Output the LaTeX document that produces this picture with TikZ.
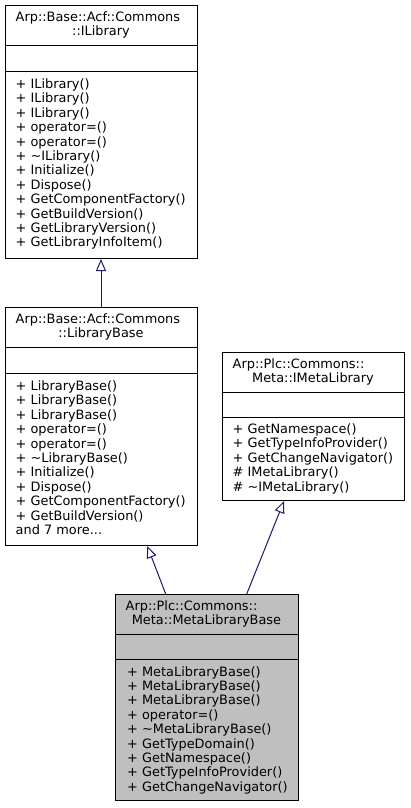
\documentclass[tikz,border=0pt]{standalone}
\usepackage{fontspec}
\setmainfont{DejaVu Sans}
\usetikzlibrary{arrows.meta,calc}
\definecolor{edgeblue}{HTML}{191970}
\definecolor{boxgray}{HTML}{BFBFBF}
\begin{document}
\begin{tikzpicture}[x=1pt,y=-1pt,
  box/.style={draw=black, line width=1pt, fill=white, rectangle, inner sep=0pt, anchor=north west},
  sep/.style={draw=black, line width=1pt},
  txt/.style={inner sep=0pt, anchor=base west, font=\fontsize{12.9}{14.4}\selectfont},
  ttl/.style={inner sep=0pt, anchor=base, font=\fontsize{12.9}{14.4}\selectfont},
  inh/.style={draw=edgeblue, line width=1pt, -{Triangle[open, length=12pt, width=10pt, fill=white]}}]
\useasboundingbox (0,0) rectangle (410,808);

% Box 1: ILibrary
\node[box, minimum width=192pt, minimum height=253pt] (b1) at (5,5) {};
\draw[sep] (5,46) -- (197,46);
\draw[sep] (5,71) -- (197,71);
\node[txt] (b1t1) at (15.5,21.5) {Arp::Base::Acf::Commons};
\node[ttl] (b1t2) at (101,35.9) {::ILibrary};
\foreach \s [count=\i] in {+ ILibrary(), + ILibrary(), + ILibrary(), + operator=(), + operator=(),
  + \textasciitilde ILibrary(), + Initialize(), + Dispose(), + GetComponentFactory(),
  + GetBuildVersion(), + GetLibraryVersion(), + GetLibraryInfoItem()}
  \node[txt] (b1m\i) at (15.5,{88.5+14.4*(\i-1)}) {\s};

% Box 2: LibraryBase
\node[box, minimum width=192pt, minimum height=238pt] (b2) at (5,307) {};
\draw[sep] (5,347) -- (197,347);
\draw[sep] (5,373) -- (197,373);
\node[txt] (b2t1) at (15.5,323.5) {Arp::Base::Acf::Commons};
\node[ttl] (b2t2) at (101,337.9) {::LibraryBase};
\foreach \s [count=\i] in {+ LibraryBase(), + LibraryBase(), + LibraryBase(), + operator=(), + operator=(),
  + \textasciitilde LibraryBase(), + Initialize(), + Dispose(), + GetComponentFactory(),
  + GetBuildVersion()}
  \node[txt] (b2m\i) at (15.5,{390.5+14.4*(\i-1)}) {\s};
\node[txt] (b2more) at (15.5,{390.5+14.4*10}) {and 7 more...};

% Box 3: IMetaLibrary
\node[box, minimum width=182pt, minimum height=148pt] (b3) at (222,352) {};
\draw[sep] (222,392) -- (404,392);
\draw[sep] (222,417) -- (404,417);
\node[txt] (b3t1) at (232.5,368) {Arp::Plc::Commons::};
\node[ttl] (b3t2) at (313,382.4) {Meta::IMetaLibrary};
\foreach \s [count=\i] in {+ GetNamespace(), + GetTypeInfoProvider(), + GetChangeNavigator(),
  \# IMetaLibrary(), \# \textasciitilde IMetaLibrary()}
  \node[txt] (b3m\i) at (232.5,{433.5+14.4*(\i-1)}) {\s};

% Box 4: MetaLibraryBase
\node[box, fill=boxgray, minimum width=183pt, minimum height=206pt] (b4) at (115,594) {};
\draw[sep] (115,634) -- (298,634);
\draw[sep] (115,659) -- (298,659);
\node[txt] (b4t1) at (125.5,610.5) {Arp::Plc::Commons::};
\node[ttl] (b4t2) at (206.5,624.9) {Meta::MetaLibraryBase};
\foreach \s [count=\i] in {+ MetaLibraryBase(), + MetaLibraryBase(), + MetaLibraryBase(), + operator=(),
  + \textasciitilde MetaLibraryBase(), + GetTypeDomain(), + GetNamespace(), + GetTypeInfoProvider(),
  + GetChangeNavigator()}
  \node[txt] (b4m\i) at (127,{676+14.4*(\i-1)}) {\s};

% Inheritance edges
\draw[inh] ($(b2.north west)+(96,0)$) -- ($(b1.south west)+(96,0)$);
\draw[inh] ($(b4.north west)+(50.7,0)$) -- ($(b2.south west)+(142.3,0)$);
\draw[inh] ($(b4.north west)+(131.7,0)$) -- ($(b3.south west)+(62,0)$);
\end{tikzpicture}
\end{document}
